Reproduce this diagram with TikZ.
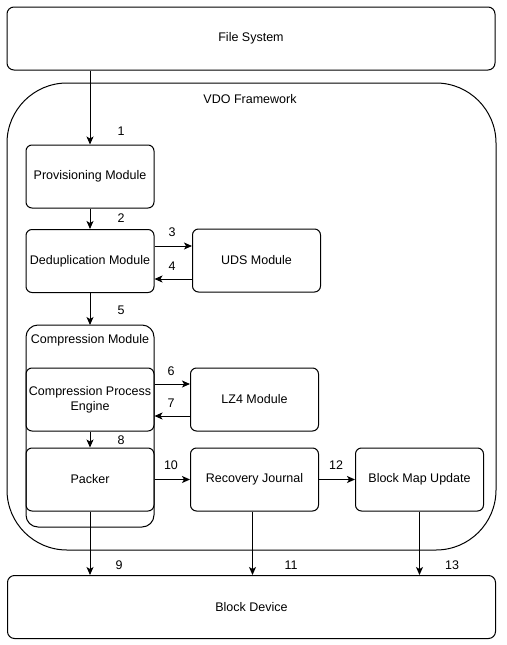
\documentclass[tikz,border=0pt]{standalone}
\usepackage{fontspec}
\setmainfont{Liberation Sans}
\usepackage{tikz}
\usetikzlibrary{positioning, arrows.meta}
\tikzstyle{module} = [rectangle, rounded corners=6pt, minimum width=128pt, minimum height=63pt, inner sep=0pt, align=center, text centered, draw=black, line width=1pt]
\tikzstyle{wide} = [rectangle, rounded corners=7pt, minimum width=488pt, minimum height=63pt, inner sep=0pt, text centered, draw=black, line width=1pt]
\tikzstyle{group} = [draw=black, line width=1pt]
\tikzstyle{num} = [inner sep=0pt]
\tikzstyle{arrow} = [line width=1pt,->,>={Stealth[length=8pt,width=7pt,inset=2pt]}]
\tikzstyle{every node}=[font=\fontsize{12.5}{15}\selectfont]

\begin{document}
\begin{tikzpicture}[x=1pt,y=-1pt]
		\useasboundingbox (0,0) rectangle (506,645);
		%外框
		\node (fs) [wide] at (251,38.5) {File System};
		\node (bd) [wide] at (251.5,607) {Block Device};
		\draw [group, rounded corners=60pt] (7,83) rectangle (496,550);
		\node (vdo) [num] at (250,99) {VDO Framework};
		\draw [group, rounded corners=12pt] (26,325) rectangle (154,527);
		\node (comp) [num] at (90,340) {Compression Module};
		
		%模块
		\node (prov) [module] at (90,176.5) {Provisioning Module};
		\node (dedup) [module] at (90,261) {Deduplication Module};
		\node (uds) [module] at (256.5,260.5) {UDS Module};
		\node (cpe) [module] at (90,399.5) {Compression Process\\Engine};
		\node (lz4) [module] at (254.5,399.5) {LZ4 Module};
		\node (packer) [module] at (90,479.5) {Packer};
		\node (rj) [module] at (254.5,479.5) {Recovery Journal};
		\node (bmu) [module] at (419.5,479.5) {Block Map Update};
		
		%连接
		\draw [arrow](prov.north |- fs.south) -- (prov.north);
		\draw [arrow](prov) -- (dedup);
		\draw [arrow]([yshift=15pt]dedup.east) -- ([yshift=15pt]dedup.east -| uds.west);
		\draw [arrow]([yshift=-18pt]dedup.east -| uds.west) -- ([yshift=-18pt]dedup.east);
		\draw [arrow](dedup.south) -- (dedup.south |- 0,325);
		\draw [arrow]([yshift=15.5pt]cpe.east) -- ([yshift=15.5pt]cpe.east -| lz4.west);
		\draw [arrow]([yshift=-16.5pt]cpe.east -| lz4.west) -- ([yshift=-16.5pt]cpe.east);
		\draw [arrow](cpe) -- (packer);
		\draw [arrow](packer) -- (rj);
		\draw [arrow](rj) -- (bmu);
		\draw [arrow](packer.south) -- (packer.south |- bd.north);
		\draw [arrow]([xshift=-2pt]rj.south) -- ([xshift=-2pt]rj.south |- bd.north);
		\draw [arrow](bmu.south) -- (bmu.south |- bd.north);
		
		%编号
		\node [num] at (121,131) {1};
		\node [num] at (121,218) {2};
		\node [num] at (172,232) {3};
		\node [num] at (172,266) {4};
		\node [num] at (121,310) {5};
		\node [num] at (171,371) {6};
		\node [num] at (171,403) {7};
		\node [num] at (121,440) {8};
		\node [num] at (119,565) {9};
		\node [num] at (171,465) {10};
		\node [num] at (291,565) {11};
		\node [num] at (336,465) {12};
		\node [num] at (452,565) {13};
		
	\end{tikzpicture}
\end{document}
